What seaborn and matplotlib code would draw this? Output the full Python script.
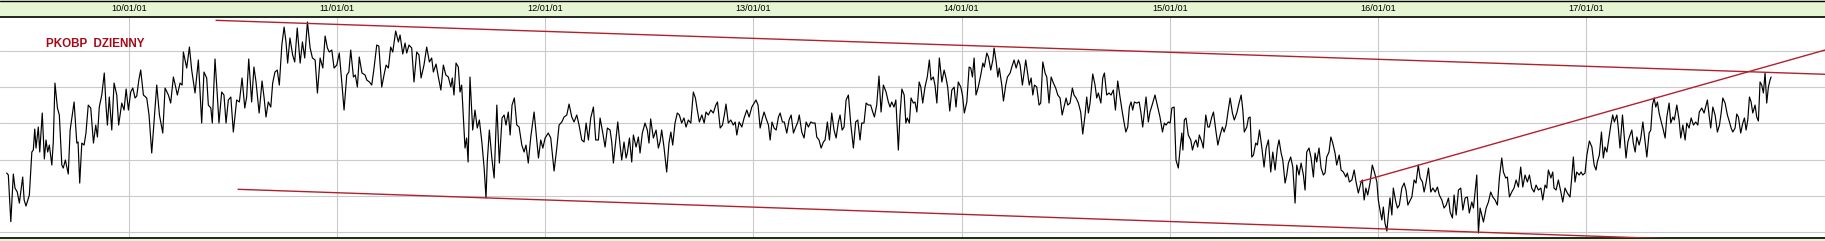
import numpy as np
import pandas as pd
import matplotlib
matplotlib.use("Agg")
import matplotlib.pyplot as plt
import seaborn as sns
from matplotlib.lines import Line2D
from matplotlib import font_manager

# ---------------- data (decimal year, close price) ----------------
years_1 = [2009.412, 2009.420, 2009.432, 2009.444, 2009.452, 2009.463, 2009.473, 2009.489, 2009.496, 2009.505,
           2009.521, 2009.533, 2009.540, 2009.547, 2009.553, 2009.564, 2009.571, 2009.583, 2009.593, 2009.601,
           2009.609, 2009.617, 2009.629, 2009.636, 2009.644, 2009.656, 2009.665, 2009.677, 2009.684, 2009.694,
           2009.708, 2009.717, 2009.736, 2009.749, 2009.755, 2009.763, 2009.773, 2009.784, 2009.793, 2009.804,
           2009.816, 2009.829, 2009.840, 2009.848, 2009.857, 2009.869, 2009.881, 2009.890, 2009.896, 2009.905,
           2009.917, 2009.928, 2009.941, 2009.950, 2009.965, 2009.976, 2009.986, 2009.997, 2010.008, 2010.018,
           2010.029, 2010.037, 2010.047, 2010.056, 2010.069, 2010.085, 2010.096, 2010.109, 2010.120, 2010.133,
           2010.146, 2010.162, 2010.173, 2010.189, 2010.200, 2010.213, 2010.224, 2010.232, 2010.245, 2010.255,
           2010.261, 2010.277, 2010.290, 2010.301, 2010.317, 2010.333, 2010.341]
close_1 = [26.52, 26.30, 21.14, 26.41, 24.86, 24.42, 23.20, 26.08, 23.54, 22.87,
           24.09, 28.84, 29.06, 31.38, 29.28, 31.60, 28.84, 33.15, 28.07, 30.17,
           28.84, 29.61, 27.40, 29.95, 36.46, 33.70, 32.93, 27.40, 27.07, 27.96,
           26.41, 31.27, 34.37, 29.83, 29.95, 25.41, 29.83, 29.61, 30.94, 34.03,
           33.70, 29.83, 31.82, 30.50, 33.81, 35.14, 37.57, 33.70, 31.82, 34.92,
           31.27, 36.46, 35.14, 31.82, 34.25, 33.48, 35.80, 33.48, 35.47, 35.91,
           34.81, 35.03, 36.80, 37.90, 35.14, 34.81, 32.93, 28.73, 32.16, 36.24,
           32.93, 30.94, 35.91, 35.14, 34.25, 37.13, 36.02, 35.14, 36.46, 36.24,
           39.89, 38.12, 40.44, 37.90, 35.36, 39.01, 35.47]

years_2 = [2010.349, 2010.360, 2010.373, 2010.381, 2010.393, 2010.400, 2010.413, 2010.424, 2010.432, 2010.445,
           2010.456, 2010.466, 2010.477, 2010.489, 2010.501, 2010.517, 2010.530, 2010.543, 2010.556, 2010.565,
           2010.575, 2010.589, 2010.600, 2010.610, 2010.625, 2010.639, 2010.649, 2010.658, 2010.669, 2010.681,
           2010.690, 2010.701, 2010.712, 2010.722, 2010.734, 2010.745, 2010.754, 2010.762, 2010.773, 2010.786,
           2010.796, 2010.808, 2010.822, 2010.833, 2010.844, 2010.857, 2010.870, 2010.881, 2010.894, 2010.905,
           2010.918, 2010.931, 2010.942, 2010.953, 2010.962, 2010.974, 2010.985, 2010.998, 2011.010, 2011.022,
           2011.033, 2011.046, 2011.056, 2011.065, 2011.078, 2011.087, 2011.097, 2011.106, 2011.119, 2011.134,
           2011.142, 2011.155, 2011.166, 2011.177, 2011.190, 2011.200, 2011.214, 2011.225, 2011.235, 2011.246,
           2011.257, 2011.267, 2011.281, 2011.294]
close_2 = [32.04, 37.68, 37.02, 34.03, 33.70, 32.04, 39.12, 35.14, 32.04, 35.47,
           35.14, 32.04, 34.59, 34.92, 31.05, 34.59, 34.37, 37.02, 33.70, 34.92,
           39.12, 34.37, 38.23, 36.58, 33.15, 36.69, 34.81, 32.71, 34.37, 33.81,
           36.46, 37.68, 37.90, 36.24, 40.66, 42.65, 41.00, 38.67, 41.44, 39.56,
           38.79, 42.54, 38.67, 41.00, 39.23, 43.21, 40.33, 39.23, 39.01, 35.36,
           39.23, 38.12, 41.66, 40.33, 39.89, 40.11, 38.12, 38.45, 39.78, 36.58,
           33.48, 37.35, 37.68, 40.11, 37.13, 37.35, 36.02, 39.34, 37.57, 37.35,
           36.80, 36.58, 36.24, 38.12, 40.66, 40.55, 36.02, 37.35, 38.45, 38.12,
           40.44, 39.89, 42.21, 41.00]

years_3 = [2011.302, 2011.315, 2011.326, 2011.334, 2011.345, 2011.358, 2011.369, 2011.382, 2011.393, 2011.403,
           2011.417, 2011.430, 2011.443, 2011.454, 2011.462, 2011.475, 2011.486, 2011.498, 2011.510, 2011.522,
           2011.534, 2011.546, 2011.553, 2011.561, 2011.571, 2011.582, 2011.590, 2011.598, 2011.614, 2011.622,
           2011.629, 2011.638, 2011.651, 2011.662, 2011.673, 2011.683, 2011.695, 2011.706, 2011.715, 2011.721,
           2011.731, 2011.743, 2011.754, 2011.767, 2011.779, 2011.792, 2011.802, 2011.811, 2011.822, 2011.831,
           2011.840, 2011.851, 2011.863, 2011.874, 2011.887, 2011.898, 2011.907, 2011.918, 2011.930, 2011.946,
           2011.955, 2011.967, 2011.978, 2011.988, 2011.999, 2012.014, 2012.026, 2012.042, 2012.055, 2012.066,
           2012.079, 2012.090, 2012.103, 2012.114, 2012.127, 2012.138, 2012.151, 2012.162, 2012.175, 2012.186,
           2012.196, 2012.207, 2012.218, 2012.231, 2012.242, 2012.255]
close_3 = [41.77, 39.67, 40.88, 39.78, 40.66, 40.33, 36.58, 39.89, 39.56, 37.02,
           38.45, 40.44, 38.79, 39.23, 37.68, 38.56, 37.13, 35.69, 38.45, 37.35,
           37.13, 36.02, 37.02, 35.14, 38.67, 38.23, 35.47, 36.24, 29.28, 30.39,
           27.74, 37.13, 31.27, 33.48, 31.49, 32.38, 29.95, 27.07, 23.76, 27.74,
           31.27, 28.18, 25.97, 34.03, 27.62, 32.60, 32.93, 31.82, 33.26, 30.72,
           34.03, 34.81, 31.82, 31.60, 29.61, 28.84, 29.61, 27.62, 30.50, 33.26,
           31.05, 28.18, 30.17, 29.28, 30.39, 30.94, 30.39, 26.74, 29.28, 31.82,
           32.16, 32.71, 32.93, 34.14, 32.71, 32.16, 32.93, 31.82, 30.17, 29.95,
           32.04, 30.17, 32.60, 33.81, 30.17, 30.17]

years_4 = [2012.263, 2012.276, 2012.287, 2012.298, 2012.311, 2012.319, 2012.327, 2012.338, 2012.348, 2012.359,
           2012.367, 2012.378, 2012.388, 2012.394, 2012.404, 2012.415, 2012.423, 2012.436, 2012.447, 2012.455,
           2012.466, 2012.479, 2012.490, 2012.498, 2012.506, 2012.519, 2012.532, 2012.543, 2012.551, 2012.559,
           2012.570, 2012.583, 2012.594, 2012.603, 2012.612, 2012.623, 2012.634, 2012.644, 2012.655, 2012.666,
           2012.676, 2012.687, 2012.699, 2012.711, 2012.721, 2012.730, 2012.740, 2012.752, 2012.763, 2012.772,
           2012.783, 2012.795, 2012.807, 2012.819, 2012.827, 2012.840, 2012.851, 2012.860, 2012.868, 2012.879,
           2012.891, 2012.903, 2012.912, 2012.920, 2012.931, 2012.944, 2012.955, 2012.968, 2012.979, 2012.992,
           2013.003, 2013.012, 2013.022, 2013.032, 2013.043, 2013.051, 2013.060, 2013.072, 2013.080, 2013.089,
           2013.099, 2013.109, 2013.120, 2013.128, 2013.139, 2013.148, 2013.160, 2013.171, 2013.181, 2013.192,
           2013.203, 2013.213, 2013.220]
close_4 = [32.60, 30.94, 29.39, 31.49, 31.27, 29.95, 27.62, 29.95, 32.16, 29.61,
           27.96, 29.95, 28.18, 28.73, 30.39, 27.74, 30.72, 29.39, 30.50, 28.73,
           30.94, 32.04, 31.27, 29.83, 32.49, 30.39, 31.27, 29.28, 29.95, 31.27,
           29.39, 26.63, 29.83, 31.05, 29.61, 32.04, 33.15, 32.93, 32.04, 32.60,
           31.60, 32.38, 32.04, 35.47, 34.81, 33.48, 32.16, 32.93, 32.04, 33.26,
           32.93, 33.48, 33.15, 34.03, 34.37, 31.49, 31.82, 32.93, 34.14, 32.04,
           32.38, 31.82, 32.16, 30.72, 32.16, 31.60, 32.60, 33.48, 32.71, 33.81,
           34.25, 34.59, 34.03, 31.49, 32.60, 33.26, 32.60, 31.82, 30.17, 32.16,
           31.49, 31.27, 32.71, 33.15, 32.16, 32.16, 30.94, 32.38, 32.93, 30.94,
           31.60, 32.16, 32.93]

years_5 = [2013.232, 2013.243, 2013.253, 2013.264, 2013.275, 2013.285, 2013.296, 2013.304, 2013.315, 2013.325,
           2013.336, 2013.344, 2013.355, 2013.365, 2013.376, 2013.387, 2013.397, 2013.408, 2013.416, 2013.426,
           2013.435, 2013.445, 2013.456, 2013.467, 2013.480, 2013.491, 2013.501, 2013.512, 2013.520, 2013.531,
           2013.541, 2013.552, 2013.563, 2013.573, 2013.581, 2013.592, 2013.603, 2013.613, 2013.624, 2013.637,
           2013.648, 2013.656, 2013.664, 2013.675, 2013.684, 2013.696, 2013.704, 2013.713, 2013.724, 2013.732,
           2013.739, 2013.749, 2013.757, 2013.768, 2013.776, 2013.785, 2013.796, 2013.804, 2013.813, 2013.824,
           2013.835, 2013.845, 2013.853, 2013.864, 2013.872, 2013.881, 2013.893, 2013.905, 2013.916, 2013.925,
           2013.933, 2013.943, 2013.953, 2013.964, 2013.973, 2013.984, 2013.996, 2014.004, 2014.013, 2014.025,
           2014.036, 2014.044, 2014.052, 2014.060, 2014.069, 2014.080, 2014.092, 2014.102, 2014.109, 2014.121,
           2014.129, 2014.140, 2014.150, 2014.156, 2014.166, 2014.174, 2014.181]
close_5 = [31.05, 30.39, 32.16, 31.60, 32.16, 32.04, 32.04, 30.50, 30.17, 29.28,
           29.95, 30.17, 32.16, 30.17, 33.15, 31.27, 30.39, 32.16, 32.93, 31.27,
           31.60, 34.59, 35.14, 32.04, 29.28, 32.16, 32.38, 30.17, 32.04, 32.04,
           34.25, 34.03, 34.03, 33.26, 32.71, 34.03, 37.24, 33.26, 36.24, 35.47,
           34.37, 33.81, 34.37, 33.81, 34.59, 29.06, 32.93, 35.80, 35.14, 32.04,
           32.60, 32.04, 34.81, 34.25, 34.37, 33.26, 36.58, 36.02, 34.25, 36.02,
           37.13, 39.01, 36.80, 37.13, 36.24, 34.25, 39.23, 36.58, 37.90, 37.02,
           36.02, 33.37, 35.69, 36.02, 33.81, 36.58, 36.02, 35.14, 33.15, 34.37,
           38.23, 38.12, 37.13, 39.23, 35.14, 36.02, 37.35, 38.67, 38.23, 39.78,
           39.34, 37.90, 39.01, 40.33, 38.79, 37.13, 38.12]

years_6 = [2014.193, 2014.201, 2014.212, 2014.220, 2014.233, 2014.241, 2014.252, 2014.262, 2014.273, 2014.281,
           2014.292, 2014.300, 2014.308, 2014.318, 2014.325, 2014.334, 2014.342, 2014.350, 2014.361, 2014.372,
           2014.380, 2014.390, 2014.401, 2014.409, 2014.420, 2014.430, 2014.441, 2014.452, 2014.462, 2014.473,
           2014.483, 2014.492, 2014.502, 2014.510, 2014.521, 2014.532, 2014.540, 2014.550, 2014.561, 2014.572,
           2014.582, 2014.593, 2014.601, 2014.609, 2014.617, 2014.630, 2014.641, 2014.649, 2014.657, 2014.669,
           2014.678, 2014.686, 2014.697, 2014.708, 2014.718, 2014.729, 2014.739, 2014.750, 2014.761, 2014.772,
           2014.780, 2014.789, 2014.798, 2014.806, 2014.814, 2014.822, 2014.830, 2014.841, 2014.853, 2014.861,
           2014.870, 2014.878, 2014.886, 2014.897, 2014.905, 2014.918, 2014.929, 2014.940, 2014.953, 2014.965,
           2014.974, 2014.982, 2014.993, 2015.002, 2015.010, 2015.021, 2015.030, 2015.041, 2015.050, 2015.058,
           2015.063, 2015.070, 2015.078, 2015.089, 2015.101, 2015.109, 2015.118, 2015.126, 2015.134, 2015.142]
close_6 = [36.24, 34.48, 36.24, 37.13, 37.57, 38.23, 39.01, 38.12, 39.01, 38.45,
           36.24, 37.57, 39.01, 37.35, 36.24, 37.02, 35.14, 36.24, 36.02, 34.03,
           34.25, 38.79, 37.57, 37.13, 34.25, 37.13, 36.46, 35.91, 35.14, 34.81,
           32.93, 33.81, 34.81, 34.03, 34.25, 35.91, 35.14, 34.81, 34.25, 33.26,
           30.83, 32.93, 34.92, 33.15, 34.25, 37.46, 36.24, 34.81, 35.36, 34.25,
           37.02, 37.57, 35.14, 35.36, 35.14, 35.69, 33.48, 36.69, 34.92, 33.26,
           32.16, 31.05, 31.60, 33.81, 34.37, 33.48, 34.37, 34.25, 34.37, 33.26,
           31.60, 33.26, 34.92, 32.16, 33.26, 34.25, 35.14, 34.03, 32.71, 31.05,
           32.04, 31.82, 32.16, 32.04, 33.70, 33.81, 27.96, 27.07, 29.28, 30.94,
           29.06, 32.38, 32.60, 30.72, 30.17, 29.06, 29.83, 30.17, 29.39, 30.72]

years_7 = [2015.154, 2015.161, 2015.173, 2015.183, 2015.190, 2015.202, 2015.210, 2015.221, 2015.231, 2015.242,
           2015.253, 2015.261, 2015.271, 2015.279, 2015.290, 2015.301, 2015.310, 2015.322, 2015.333, 2015.343,
           2015.351, 2015.358, 2015.370, 2015.378, 2015.386, 2015.394, 2015.402, 2015.413, 2015.421, 2015.431,
           2015.442, 2015.453, 2015.463, 2015.474, 2015.485, 2015.495, 2015.506, 2015.517, 2015.525, 2015.535,
           2015.543, 2015.554, 2015.562, 2015.570, 2015.581, 2015.591, 2015.602, 2015.610, 2015.621, 2015.631,
           2015.642, 2015.650, 2015.658, 2015.669, 2015.679, 2015.690, 2015.698, 2015.706, 2015.717, 2015.727,
           2015.738, 2015.746, 2015.754, 2015.765, 2015.774, 2015.783, 2015.794, 2015.802, 2015.814, 2015.823,
           2015.834, 2015.846, 2015.853, 2015.863, 2015.875, 2015.886, 2015.895, 2015.906, 2015.918, 2015.925,
           2015.934, 2015.942, 2015.951, 2015.962, 2015.973, 2015.983, 2015.995, 2016.002, 2016.010, 2016.019,
           2016.026, 2016.034, 2016.043, 2016.050, 2016.058, 2016.067, 2016.074, 2016.086, 2016.094, 2016.103]
close_7 = [29.95, 29.28, 32.93, 31.60, 31.60, 32.71, 33.26, 31.27, 29.61, 30.72,
           31.60, 31.05, 31.82, 33.15, 34.81, 33.15, 32.38, 33.15, 34.25, 35.14,
           33.48, 31.05, 31.60, 32.60, 32.71, 28.29, 28.51, 29.83, 29.61, 31.27,
           29.39, 27.18, 29.28, 30.17, 26.63, 28.84, 26.85, 29.28, 30.17, 28.73,
           27.96, 25.41, 26.30, 27.62, 28.29, 27.18, 23.20, 27.40, 26.30, 27.62,
           26.30, 24.64, 28.84, 29.28, 28.18, 26.08, 28.73, 27.74, 29.28, 27.07,
           26.30, 26.52, 28.29, 28.84, 30.50, 29.83, 28.73, 27.40, 28.51, 26.85,
           26.63, 26.08, 26.52, 25.53, 25.75, 26.85, 25.53, 24.31, 25.41, 25.75,
           23.54, 24.86, 24.09, 25.41, 27.40, 26.63, 25.53, 23.54, 22.43, 21.33,
           22.76, 20.99, 20.11, 21.88, 23.76, 21.88, 24.86, 23.32, 22.65, 22.98]

years_8 = [2016.115, 2016.126, 2016.135, 2016.144, 2016.151, 2016.163, 2016.174, 2016.183, 2016.194, 2016.203,
           2016.214, 2016.222, 2016.231, 2016.243, 2016.254, 2016.264, 2016.275, 2016.286, 2016.295, 2016.307,
           2016.318, 2016.328, 2016.339, 2016.347, 2016.358, 2016.366, 2016.376, 2016.387, 2016.398, 2016.408,
           2016.419, 2016.430, 2016.439, 2016.451, 2016.459, 2016.467, 2016.475, 2016.483, 2016.491, 2016.499,
           2016.507, 2016.520, 2016.531, 2016.542, 2016.552, 2016.563, 2016.574, 2016.584, 2016.595, 2016.603,
           2016.614, 2016.622, 2016.632, 2016.643, 2016.654, 2016.664, 2016.675, 2016.686, 2016.696, 2016.707,
           2016.718, 2016.728, 2016.739, 2016.750, 2016.760, 2016.771, 2016.783, 2016.792, 2016.803, 2016.811,
           2016.819, 2016.831, 2016.840, 2016.846, 2016.856, 2016.867, 2016.879, 2016.888, 2016.899, 2016.910,
           2016.923, 2016.931, 2016.939, 2016.947, 2016.955, 2016.967, 2016.976, 2016.984, 2016.995, 2017.004,
           2017.016, 2017.028, 2017.039, 2017.048, 2017.054, 2017.064]
close_8 = [24.86, 25.41, 24.64, 22.98, 23.32, 23.87, 25.75, 25.41, 27.40, 25.97,
           25.53, 24.42, 25.41, 27.07, 24.42, 24.86, 24.42, 24.97, 24.09, 23.54,
           22.65, 22.98, 23.76, 22.21, 21.55, 24.09, 21.88, 24.64, 24.86, 22.43,
           23.76, 23.87, 22.10, 23.32, 22.65, 24.42, 26.30, 19.89, 22.65, 21.88,
           21.11, 22.65, 23.32, 24.42, 23.87, 23.54, 22.98, 26.08, 28.18, 26.63,
           25.97, 26.08, 23.87, 24.42, 24.86, 25.75, 24.97, 27.18, 24.97, 26.30,
           25.53, 26.30, 24.86, 24.42, 25.19, 24.64, 24.86, 23.54, 25.19, 24.86,
           26.85, 25.97, 26.63, 24.86, 24.64, 25.75, 24.42, 23.32, 24.86, 24.31,
           23.87, 25.97, 28.29, 25.53, 26.63, 26.30, 26.63, 26.30, 26.52, 28.51,
           30.06, 29.39, 27.40, 26.85, 27.74, 28.51]

years_9 = [2017.074, 2017.083, 2017.091, 2017.100, 2017.107, 2017.119, 2017.128, 2017.136, 2017.148, 2017.155,
           2017.163, 2017.175, 2017.183, 2017.192, 2017.201, 2017.208, 2017.220, 2017.227, 2017.236, 2017.244,
           2017.255, 2017.263, 2017.273, 2017.280, 2017.292, 2017.303, 2017.311, 2017.319, 2017.327, 2017.335,
           2017.343, 2017.351, 2017.359, 2017.369, 2017.380, 2017.388, 2017.399, 2017.407, 2017.417, 2017.424,
           2017.436, 2017.447, 2017.455, 2017.465, 2017.476, 2017.484, 2017.495, 2017.505, 2017.516, 2017.527,
           2017.537, 2017.544, 2017.556, 2017.567, 2017.577, 2017.583, 2017.591, 2017.599, 2017.609, 2017.620,
           2017.631, 2017.641, 2017.649, 2017.657, 2017.668, 2017.679, 2017.689, 2017.697, 2017.705, 2017.716,
           2017.724, 2017.732, 2017.743, 2017.753, 2017.761, 2017.769, 2017.777, 2017.785, 2017.793, 2017.801,
           2017.812, 2017.820, 2017.828, 2017.836, 2017.844, 2017.852, 2017.860, 2017.868, 2017.876, 2017.884,
           2017.889]
close_9 = [31.05, 28.18, 29.39, 28.84, 29.95, 31.82, 32.93, 32.16, 32.93, 31.49,
           29.28, 32.93, 30.72, 28.18, 29.95, 30.50, 31.27, 29.83, 28.84, 30.50,
           29.61, 30.39, 32.16, 30.72, 28.29, 30.94, 31.27, 34.03, 34.81, 33.81,
           34.37, 33.15, 32.38, 31.49, 30.39, 32.71, 34.25, 32.04, 32.71, 32.38,
           34.03, 32.38, 30.39, 31.82, 30.17, 32.04, 31.49, 32.60, 31.82, 32.16,
           31.82, 33.26, 33.70, 33.15, 34.03, 34.59, 32.93, 31.49, 33.81, 32.93,
           31.05, 31.82, 33.15, 34.81, 34.25, 32.93, 32.16, 31.49, 31.05, 31.49,
           33.04, 32.71, 30.94, 32.04, 32.60, 31.27, 32.38, 34.92, 34.37, 33.15,
           34.03, 32.71, 32.27, 36.58, 36.24, 35.36, 37.57, 34.25, 36.02, 36.80,
           37.13]

# trend lines (start / end points, decimal year and price)
trend_upper_t = [2010.418, 2018.148]
trend_upper_p = [43.39, 37.43]
trend_lower_t = [2010.524, 2018.148]
trend_lower_p = [24.72, 18.66]
trend_rise_t = [2015.914, 2018.148]
trend_rise_p = [25.56, 40.11]

year_ticks = [2010, 2011, 2012, 2013, 2014, 2015, 2016, 2017]
year_labels = ["10/01/01", "11/01/01", "12/01/01", "13/01/01",
               "14/01/01", "15/01/01", "16/01/01", "17/01/01"]
price_grid = [20, 24, 28, 32, 36, 40]
x_range = (2009.380, 2018.148)
y_range = (19.34, 43.76)
title = "PKOBP  DZIENNY"

# ---------------- build ----------------
years = sum([years_1, years_2, years_3, years_4, years_5, years_6, years_7, years_8, years_9], [])
closes = sum([close_1, close_2, close_3, close_4, close_5, close_6, close_7, close_8, close_9], [])
df = pd.DataFrame({"year": years, "close": closes})

sns.set_theme(style="white")
plt.rcParams['font.family'] = ['Liberation Sans', 'DejaVu Sans']

installed = {f.name for f in font_manager.fontManager.ttflist}
if 'Liberation Sans Narrow' in installed:
    title_family, title_size = ['Liberation Sans Narrow', 'Liberation Sans'], 10.0
else:
    title_family, title_size = ['Liberation Sans', 'DejaVu Sans'], 8.4

W, H = 1825, 241
fig = plt.figure(figsize=(W / 100, H / 100), dpi=100)
fig.patch.set_facecolor('#e6f6d2')
ax = fig.add_axes([0, 3 / H, 1, 221 / H])
ax.set_facecolor('white')

sns.lineplot(data=df, x="year", y="close", ax=ax, color='black', lw=0.85,
             estimator=None, sort=False, zorder=3)
for tt, pp in [(trend_upper_t, trend_upper_p), (trend_lower_t, trend_lower_p),
               (trend_rise_t, trend_rise_p)]:
    sns.lineplot(x=tt, y=pp, ax=ax, color='#b3202c', lw=1.0, estimator=None,
                 sort=False, zorder=4)

ax.set_xlim(*x_range)
ax.set_ylim(*y_range)
ax.set_xlabel("")
ax.set_ylabel("")
ax.set_xticks(year_ticks)
ax.set_xticklabels(year_labels)
ax.set_yticks(price_grid)
ax.set_yticklabels([])
ax.xaxis.tick_top()
ax.tick_params(axis='x', which='both', length=0, pad=2.6, labelsize=6.6,
               labelcolor='black', top=True, bottom=False, labeltop=True, labelbottom=False)
ax.tick_params(axis='y', length=0, left=False, labelleft=False)
ax.set_axisbelow(True)
ax.grid(True, color='#cacaca', lw=0.8)

for side in ['left', 'right']:
    ax.spines[side].set_visible(False)
for side in ['top', 'bottom']:
    ax.spines[side].set_visible(True)
    ax.spines[side].set_color('black')
    ax.spines[side].set_linewidth(1.2)

ax.text(0.025, 0.880, title, transform=ax.transAxes, ha='left', va='center',
        fontsize=title_size, fontweight='bold', color='#a80818', family=title_family)

fig.add_artist(Line2D([0, 1], [1 - 1.0 / H, 1 - 1.0 / H], transform=fig.transFigure,
                      color='black', lw=1.0))

fig.savefig("out.png", dpi=100, facecolor=fig.get_facecolor())
